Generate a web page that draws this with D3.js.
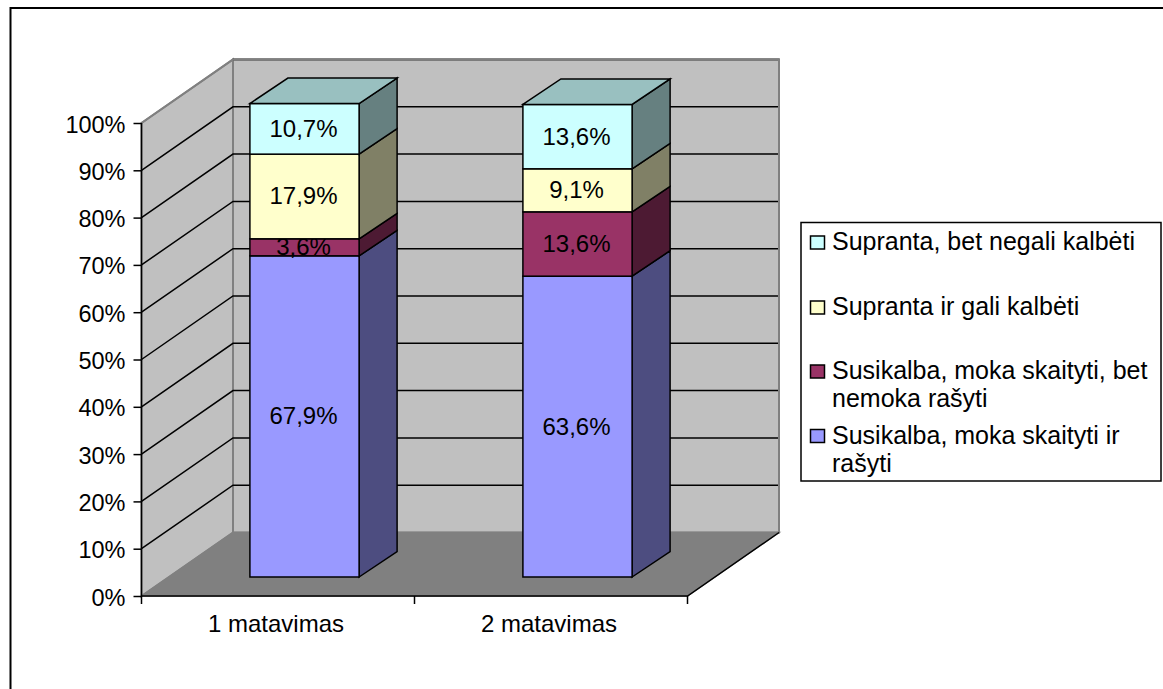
<!DOCTYPE html>
<html>
<head>
<meta charset="utf-8">
<script src="https://cdn.jsdelivr.net/npm/d3@7"></script>
<style>
    html, body { margin: 0; padding: 0; background: #fff; overflow: hidden; }
    svg { display: block; }
    text { font-family: "Liberation Sans", Arial, sans-serif; fill: #000; }
    .axis-text { font-size: 23.5px; }
    .cat-text { font-size: 24px; }
    .value-label { font-size: 24px; }
    .legend-text { font-size: 25px; }
</style>
</head>
<body>
<script>
// Set chart dimensions
const width = 1163;
const height = 689;

// Chart data
const categories = ["1 matavimas", "2 matavimas"];
const seriesNames = [
    "Susikalba, moka skaityti ir rašyti",
    "Susikalba, moka skaityti, bet nemoka rašyti",
    "Supranta ir gali kalbėti",
    "Supranta, bet negali kalbėti"
];
const seriesLabels = [
    ["67,9%", "63,6%"],
    ["3,6%", "13,6%"],
    ["17,9%", "9,1%"],
    ["10,7%", "13,6%"]
];
const seriesValues = [
    [67.9, 63.6],
    [3.6, 13.6],
    [17.9, 9.1],
    [10.7, 13.6]
];
const yTicks = [0, 10, 20, 30, 40, 50, 60, 70, 80, 90, 100];

// Legend runs top to bottom in reverse series order
const legendLines = [
    ["Supranta, bet negali kalbėti"],
    ["Supranta ir gali kalbėti"],
    ["Susikalba, moka skaityti, bet", "nemoka rašyti"],
    ["Susikalba, moka skaityti ir", "rašyti"]
];

const frontColors = ["#9999ff", "#993366", "#ffffcc", "#ccffff"];
const sideColors = ["#4d4d80", "#4d1a33", "#808066", "#668080"];
const topColor = "#99c0c0";

// Oblique offsets of the 3D box
const depth = { x: 91.5, y: -63.5 };
const barFront = { x: 26.5, y: -19 };
const barDepth = { x: 38, y: -25.5 };

const svg = d3.select("body")
    .append("svg")
    .attr("width", width)
    .attr("height", height);

// Create the scales for the front plane of the box
const xScale = d3.scaleBand()
    .domain(categories)
    .range([141.5, 687.5])
    .paddingInner(0.6)
    .paddingOuter(0.3);

const yScale = d3.scaleLinear()
    .domain([0, 100])
    .range([596, 123]);

const line = d3.line();
const poly = pts => line(pts) + "Z";

// Outer chart frame: only the top and left edges are in the picture
svg.append("path")
    .attr("d", line([[10.5, height], [10.5, 8], [width, 8]]))
    .attr("fill", "none")
    .attr("stroke", "#000")
    .attr("stroke-width", 2);

const x0 = xScale.range()[0];
const x1 = xScale.range()[1];
const y0 = yScale(0);
const y100 = yScale(100);

// Side wall, back wall and floor
svg.append("path")
    .attr("d", poly([[x0, y100], [x0 + depth.x, y100 + depth.y], [x0 + depth.x, y0 + depth.y], [x0, y0]]))
    .attr("fill", "#c0c0c0")
    .attr("stroke", "#808080")
    .attr("stroke-width", 2);

svg.append("path")
    .attr("d", poly([[x0 + depth.x, y100 + depth.y], [x1 + depth.x, y100 + depth.y], [x1 + depth.x, y0 + depth.y], [x0 + depth.x, y0 + depth.y]]))
    .attr("fill", "#c0c0c0")
    .attr("stroke", "#808080")
    .attr("stroke-width", 2);

svg.append("path")
    .attr("d", poly([[x0, y0], [x0 + depth.x, y0 + depth.y], [x1 + depth.x, y0 + depth.y], [x1, y0]]))
    .attr("fill", "#808080")
    .attr("stroke", "#808080")
    .attr("stroke-width", 1.5);

// Gridlines on the walls
svg.append("g")
    .selectAll("path")
    .data(yTicks.slice(1, -1).concat([100]))
    .join("path")
    .attr("d", d => {
        const y = yScale(d);
        const pts = [[x0 + depth.x, y + depth.y], [x1 + depth.x, y + depth.y]];
        if (d < 100) pts.unshift([x0, y]);
        return line(pts);
    })
    .attr("fill", "none")
    .attr("stroke", "#000")
    .attr("stroke-width", 1.5);

// Redraw the top edge of the walls over the last gridline
svg.append("path")
    .attr("d", line([[x0, y100], [x0 + depth.x, y100 + depth.y], [x1 + depth.x, y100 + depth.y], [x1 + depth.x, y0 + depth.y]]))
    .attr("fill", "none")
    .attr("stroke", "#808080")
    .attr("stroke-width", 2);

// Front edge of the floor
svg.append("path")
    .attr("d", line([[x0, y0], [x1, y0], [x1 + depth.x, y0 + depth.y]]))
    .attr("fill", "none")
    .attr("stroke", "#000")
    .attr("stroke-width", 1.5);

// Y axis
svg.append("path")
    .attr("d", line([[x0, y100], [x0, y0]]))
    .attr("stroke", "#000")
    .attr("stroke-width", 1.5);

const yAxis = d3.axisLeft(yScale)
    .tickValues(yTicks)
    .tickFormat(d => d + "%")
    .tickSize(8)
    .tickPadding(8);

svg.append("g")
    .attr("transform", `translate(${x0}, 0)`)
    .call(yAxis)
    .call(g => g.select(".domain").remove())
    .call(g => g.selectAll("line").attr("stroke", "#000").attr("stroke-width", 1.5))
    .call(g => g.selectAll("text")
        .attr("class", "axis-text")
        .attr("font-family", null)
        .attr("fill", null)
        .attr("y", 1.5));

// X axis ticks sit between the categories, so use a separate tick scale
const xTickScale = d3.scaleLinear()
    .domain([0, categories.length])
    .range([x0, x1]);

svg.append("g")
    .selectAll("line")
    .data(d3.range(categories.length + 1))
    .join("line")
    .attr("x1", d => xTickScale(d))
    .attr("x2", d => xTickScale(d))
    .attr("y1", y0)
    .attr("y2", y0 + 8)
    .attr("stroke", "#000")
    .attr("stroke-width", 1.5);

svg.append("g")
    .selectAll("text")
    .data(categories)
    .join("text")
    .attr("class", "cat-text")
    .attr("x", (d, i) => (xTickScale(i) + xTickScale(i + 1)) / 2 - 2)
    .attr("y", 632)
    .attr("text-anchor", "middle")
    .text(d => d);

// Stacked 3D bars
categories.forEach((cat, c) => {
    const left = xScale(cat) + barFront.x;
    const right = left + xScale.bandwidth();
    let total = 0;

    seriesValues.forEach((values, s) => {
        const yLow = yScale(total) + barFront.y;
        const yHigh = yScale(total + values[c]) + barFront.y;
        total += values[c];

        // Side face
        svg.append("path")
            .attr("d", poly([[right, yLow], [right + barDepth.x, yLow + barDepth.y], [right + barDepth.x, yHigh + barDepth.y], [right, yHigh]]))
            .attr("fill", sideColors[s])
            .attr("stroke", "#000")
            .attr("stroke-width", 1.5);

        // Front face
        svg.append("rect")
            .attr("x", left)
            .attr("y", yHigh)
            .attr("width", right - left)
            .attr("height", yLow - yHigh)
            .attr("fill", frontColors[s])
            .attr("stroke", "#000")
            .attr("stroke-width", 1.5);

        // Top face on the last segment
        if (s === seriesValues.length - 1) {
            svg.append("path")
                .attr("d", poly([[left, yHigh], [left + barDepth.x, yHigh + barDepth.y], [right + barDepth.x, yHigh + barDepth.y], [right, yHigh]]))
                .attr("fill", topColor)
                .attr("stroke", "#000")
                .attr("stroke-width", 1.5);
        }

        // Value label
        svg.append("text")
            .attr("class", "value-label")
            .attr("x", (left + right) / 2 - 1)
            .attr("y", (yLow + yHigh) / 2 + 8)
            .attr("text-anchor", "middle")
            .text(seriesLabels[s][c]);
    });
});

// Legend
svg.append("rect")
    .attr("x", 801)
    .attr("y", 222.5)
    .attr("width", 360)
    .attr("height", 258.5)
    .attr("fill", "#fff")
    .attr("stroke", "#000")
    .attr("stroke-width", 1.5);

const legendRowY = [242.5, 307.5, 371.5, 436];
const legendColors = frontColors.slice().reverse();

legendLines.forEach((lines, i) => {
    svg.append("rect")
        .attr("x", 810.5)
        .attr("y", legendRowY[i] - 6.5)
        .attr("width", 14)
        .attr("height", 13)
        .attr("fill", legendColors[i])
        .attr("stroke", "#000")
        .attr("stroke-width", 1.5);

    lines.forEach((t, j) => {
        svg.append("text")
            .attr("class", "legend-text")
            .attr("x", 832)
            .attr("y", legendRowY[i] + 7.5 + j * 28)
            .text(t);
    });
});
</script>
</body>
</html>
